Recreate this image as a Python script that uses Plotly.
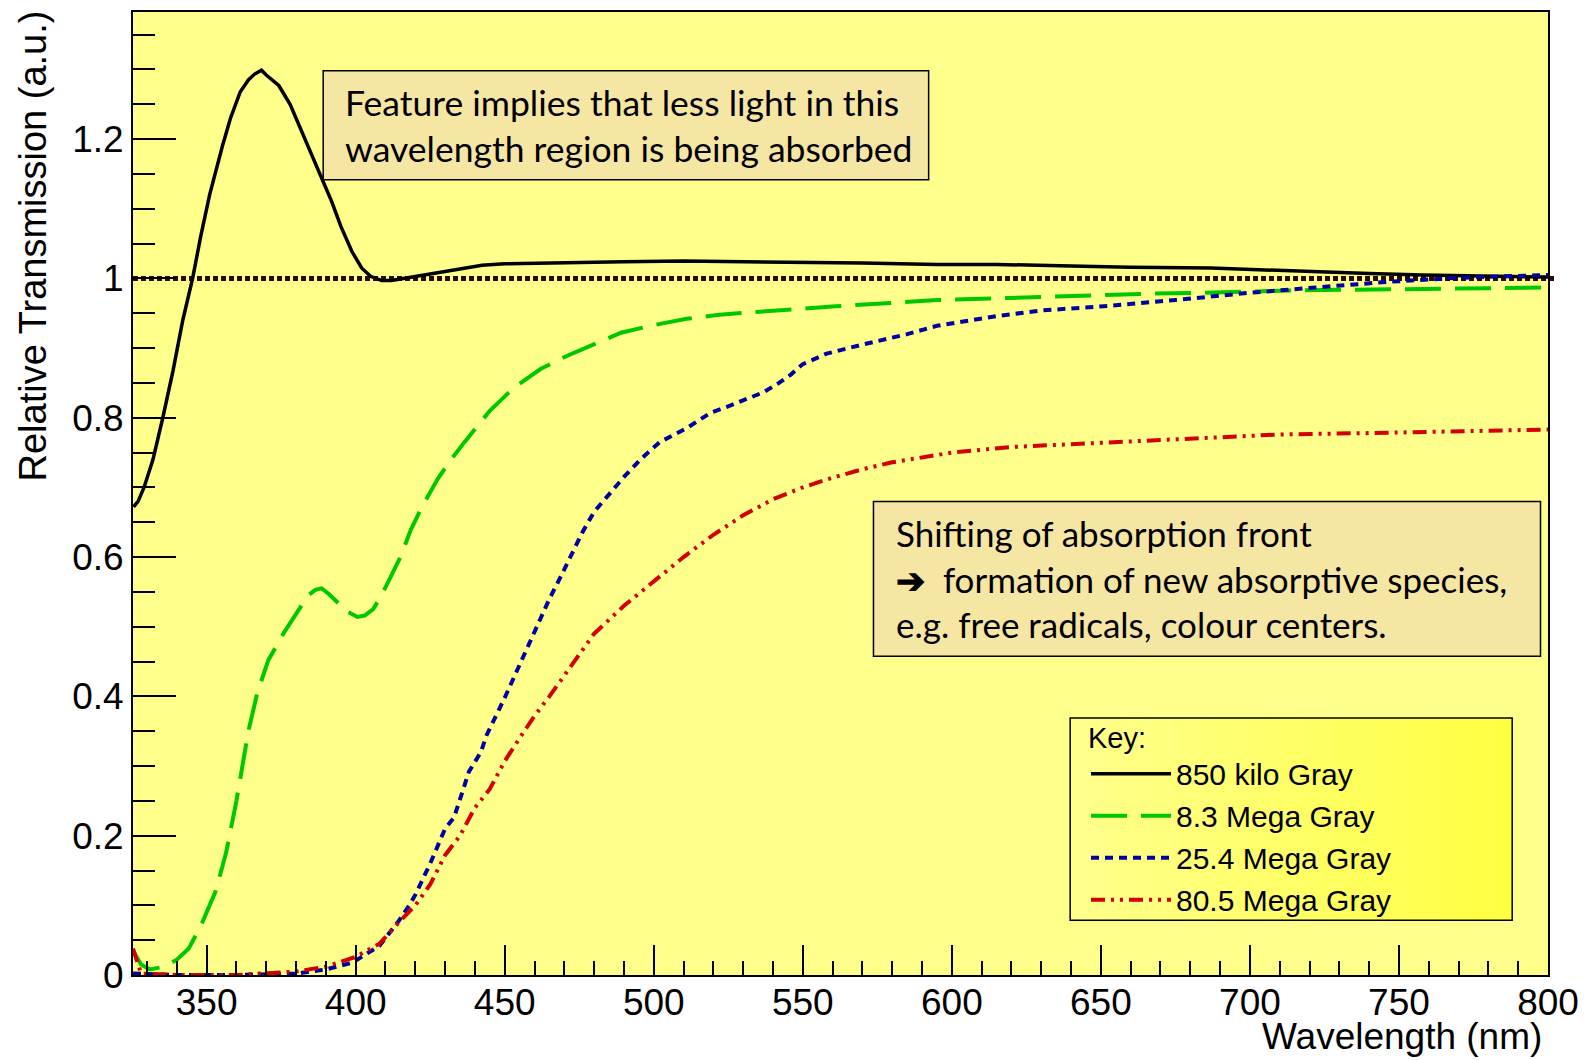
import plotly.graph_objects as go

# Relative transmission spectra after irradiation (wavelength in nm)
wl_850k = [325.5, 327, 329, 332, 335.3, 338.7, 342, 345.3, 348, 351, 355.3, 358, 361.3, 364, 366,
           368.4, 370, 374.2, 378, 384.2, 388, 392, 395, 398.7, 402, 405, 408.7, 412, 416, 420,
           425.5, 430, 436, 442.4, 450, 470, 490, 510, 540, 570, 595, 615, 640, 660, 687, 705,
           722, 740, 758, 780, 800]
t_850k = [0.672, 0.68, 0.70, 0.74, 0.80, 0.867, 0.94, 1.0, 1.06, 1.12, 1.19, 1.23, 1.268, 1.285,
          1.293, 1.299, 1.292, 1.277, 1.25, 1.187, 1.15, 1.11, 1.075, 1.039, 1.015, 1.003, 0.997,
          0.997, 1.0, 1.003, 1.007, 1.01, 1.015, 1.019, 1.021, 1.023, 1.024, 1.025, 1.024, 1.022,
          1.02, 1.02, 1.018, 1.016, 1.015, 1.012, 1.009, 1.007, 1.005, 1.003, 1.002]

wl_8p3M = [325.3, 328, 331, 336, 340, 344, 348, 353, 356.5, 360, 364, 367, 370.7, 376, 381, 384,
           386.5, 388.6, 391, 394, 397, 400.6, 403, 405.8, 408, 411, 415, 418.5, 422, 427.5, 432,
           436.5, 445, 453, 462, 471, 480, 489, 500, 511, 522, 534, 547, 561, 580, 595, 620, 640,
           665, 691, 716, 741, 765, 790, 800]
t_8p3M = [0.035, 0.015, 0.008, 0.012, 0.022, 0.038, 0.07, 0.12, 0.175, 0.25, 0.35, 0.405, 0.452,
          0.492, 0.525, 0.545, 0.553, 0.555, 0.547, 0.535, 0.522, 0.514, 0.516, 0.525, 0.54, 0.565,
          0.60, 0.639, 0.67, 0.712, 0.74, 0.765, 0.81, 0.843, 0.87, 0.889, 0.906, 0.922, 0.933,
          0.942, 0.948, 0.952, 0.956, 0.96, 0.965, 0.969, 0.972, 0.975, 0.978, 0.98, 0.983, 0.984,
          0.985, 0.987, 0.987]

wl_25p4M = [325.3, 340, 360, 380, 390, 399, 408, 414, 418, 420, 425, 430, 433, 438, 442, 444, 450,
            456, 460, 465, 468, 472, 476, 480, 486, 490, 496, 502, 511, 519, 526, 531, 537, 542,
            546, 550, 558, 570, 585, 595, 615, 630, 651, 675, 699, 722, 746, 770, 800]
t_25p4M = [0.002, 0.0, 0.0, 0.002, 0.008, 0.018, 0.042, 0.075, 0.10, 0.115, 0.16, 0.21, 0.226,
           0.292, 0.32, 0.345, 0.398, 0.455, 0.495, 0.54, 0.565, 0.60, 0.635, 0.665, 0.695, 0.715,
           0.742, 0.765, 0.785, 0.807, 0.818, 0.826, 0.837, 0.85, 0.862, 0.877, 0.892, 0.905, 0.92,
           0.932, 0.946, 0.954, 0.96, 0.969, 0.979, 0.987, 0.995, 1.001, 1.005]

wl_80p5M = [325.3, 328, 340, 360, 380, 390, 400, 408, 415, 420, 425, 430, 435, 440, 445, 450, 455,
            460, 465, 470, 475, 480, 490, 500, 510, 520, 530, 540, 550, 560, 570, 580, 600, 620,
            650, 680, 710, 740, 770, 800]
t_80p5M = [0.038, 0.002, 0.0, 0.0, 0.005, 0.012, 0.026, 0.045, 0.078, 0.10, 0.13, 0.172, 0.20,
           0.24, 0.267, 0.307, 0.34, 0.372, 0.40, 0.43, 0.46, 0.49, 0.53, 0.565, 0.60, 0.632,
           0.66, 0.683, 0.70, 0.714, 0.726, 0.736, 0.75, 0.758, 0.764, 0.771, 0.776, 0.778, 0.78,
           0.783]

series_names = ["850 kilo Gray", "8.3 Mega Gray", "25.4 Mega Gray", "80.5 Mega Gray"]

x_range = [325.3, 800]
y_range = [0, 1.3825]

AXIS_FONT = "Liberation Sans, Arial, sans-serif"
NOTE_FONT = "Lato, Open Sans, sans-serif"

fig = go.Figure()

styles = [
    dict(color="#000000", width=3.5),
    dict(color="#00C800", width=4, dash="36px,14px"),
    dict(color="#0000A0", width=4, dash="8px,6px"),
    dict(color="#D40000", width=4, dash="14px,6px,3px,6px,3px,6px"),
]
data = [(wl_850k, t_850k), (wl_8p3M, t_8p3M), (wl_25p4M, t_25p4M), (wl_80p5M, t_80p5M)]

for i, ((xs, ys), name, st) in enumerate(zip(data, series_names, styles)):
    fig.add_trace(go.Scatter(
        x=xs, y=ys, mode="lines", name=name, line=st,
        legendgroup=f"g{i}",
    ))

# reference level at unity transmission
fig.add_shape(type="line", xref="x domain", yref="y", x0=0, x1=1.005, y0=1, y1=1,
              line=dict(color="#2B0A00", width=5, dash="5px,3px"), layer="below")

# note boxes
box_fill = "#F5E6A3"
fig.add_shape(type="rect", xref="paper", yref="paper", x0=0.1344, x1=0.5623, y0=0.8259, y1=0.9389,
              fillcolor=box_fill, line=dict(color="black", width=1.5), layer="above")
fig.add_shape(type="rect", xref="paper", yref="paper", x0=0.5233, x1=0.9947, y0=0.3309, y1=0.4916,
              fillcolor=box_fill, line=dict(color="black", width=1.5), layer="above")

# key panel: horizontal yellow gradient with a thin frame
kx0, kx1, ky0, ky1 = 0.6623, 0.9747, 0.0568, 0.2668
n_slices = 30
c_left, c_right = (255, 255, 140), (255, 255, 66)
for k in range(n_slices):
    f = k / (n_slices - 1)
    col = tuple(round(a + (b - a) * f) for a, b in zip(c_left, c_right))
    fig.add_shape(type="rect", xref="paper", yref="paper",
                  x0=kx0 + (kx1 - kx0) * k / n_slices,
                  x1=kx0 + (kx1 - kx0) * (k + 1) / n_slices + 0.0005,
                  y0=ky0, y1=ky1, fillcolor="rgb(%d,%d,%d)" % col,
                  line=dict(width=0), layer="above")
fig.add_shape(type="rect", xref="paper", yref="paper", x0=kx0, x1=kx1, y0=ky0, y1=ky1,
              fillcolor="rgba(0,0,0,0)", line=dict(color="black", width=1.5), layer="above")

fig.add_annotation(
    text="Feature implies that less light in this<br>wavelength region is being absorbed",
    xref="paper", yref="paper", x=0.1485, y=0.8824, xanchor="left", yanchor="middle",
    align="left", showarrow=False, font=dict(family=NOTE_FONT, size=35.5, color="black"))
fig.add_annotation(
    text="Shifting of absorption front<br><b>➔</b>  formation of new absorptive species,<br>"
         "e.g. free radicals, colour centers.",
    xref="paper", yref="paper", x=0.5376, y=0.4115, xanchor="left", yanchor="middle",
    align="left", showarrow=False, font=dict(family=NOTE_FONT, size=35, color="black"))

# axis titles
fig.add_annotation(text="Wavelength (nm)", xref="paper", yref="paper", x=0.9975, y=-0.0642,
                   xanchor="right", yanchor="middle", showarrow=False,
                   font=dict(family=AXIS_FONT, size=37, color="black"))
fig.add_annotation(text="Relative Transmission (a.u.)", xref="paper", yref="paper",
                   x=-0.0708, y=1.004, xanchor="center", yanchor="top", textangle=-90,
                   showarrow=False, font=dict(family=AXIS_FONT, size=38, color="black"))

fig.update_layout(
    width=1589, height=1060,
    margin=dict(l=133, r=35, t=10, b=85),
    paper_bgcolor="white", plot_bgcolor="#FFFF8C",
    font=dict(family=AXIS_FONT, color="black"),
    showlegend=True,
    legend=dict(
        x=0.6735, y=0.2752, xanchor="left", yanchor="top",
        bgcolor="rgba(0,0,0,0)", borderwidth=0,
        font=dict(family=AXIS_FONT, size=30, color="black"),
        title=dict(text="Key:", font=dict(family=AXIS_FONT, size=29, color="black")),
        itemwidth=80, tracegroupgap=0,
    ),
    xaxis=dict(
        range=x_range, tick0=350, dtick=50, ticks="inside", ticklen=30, tickwidth=2,
        tickcolor="black", showgrid=False, zeroline=False, showline=True, linecolor="black",
        linewidth=2, mirror=True, tickfont=dict(size=37, family=AXIS_FONT),
        ticklabelstandoff=-6,
        minor=dict(dtick=10, tick0=350, ticks="inside", ticklen=14, tickwidth=2,
                   tickcolor="black", showgrid=False),
    ),
    yaxis=dict(
        range=y_range, tick0=0, dtick=0.2, ticks="inside", ticklen=43, tickwidth=2,
        tickcolor="black", showgrid=False, zeroline=False, showline=True, linecolor="black",
        linewidth=2, mirror=True, tickfont=dict(size=37, family=AXIS_FONT),
        minor=dict(dtick=0.05, tick0=0, ticks="inside", ticklen=22, tickwidth=2,
                   tickcolor="black", showgrid=False),
    ),
)

fig.write_html("out.html")
